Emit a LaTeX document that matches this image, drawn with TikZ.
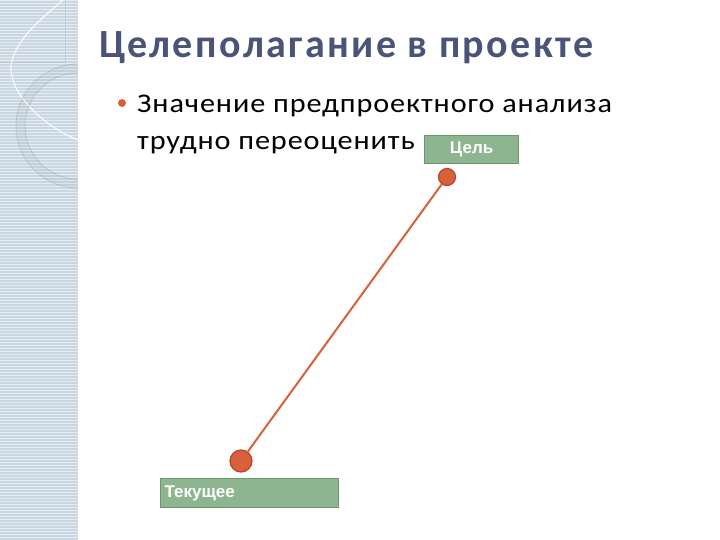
\documentclass[tikz,border=0pt]{standalone}
\usepackage{fontspec}
\setmainfont{Carlito}
\newfontfamily\arialf{Liberation Sans}
\begin{document}
\begin{tikzpicture}[x=1pt,y=-1pt,
  lbl/.style={draw=boxb,line width=1.2pt,fill=boxg,text=white,font=\arialf\bfseries\fontsize{17}{19}\selectfont,inner sep=0pt,anchor=north west},
  dot/.style={circle,draw=dotb,line width=1.2pt,fill=dotf,inner sep=0pt},
  bodytext/.style={anchor=base west,font=\fontsize{27}{30}\selectfont\addfontfeature{LetterSpace=3},inner sep=0pt}]
\definecolor{boxg}{HTML}{8DB58F}
\definecolor{boxb}{HTML}{6E9872}
\definecolor{dotf}{HTML}{D9603B}
\definecolor{dotb}{HTML}{B4482A}
\definecolor{band}{HTML}{C8D7E2}
\definecolor{titlec}{HTML}{4A5478}
\useasboundingbox (0,0) rectangle (720,540);
\fill[white] (0,0) rectangle (720,540);
% left band
\fill[band] (0,0) rectangle (78,540);
\foreach \i in {0,3,...,540} {\draw[white,opacity=0.55,line width=0.8pt] (0,\i) -- (78,\i);}
\draw[white,line width=1pt] (78,0) -- (78,540);
\draw[band!70!black,opacity=0.25,line width=0.8pt] (0,62) -- (65,62) -- (65,0);
\draw[white,opacity=0.85,line width=1.2pt] (63,0) .. controls (40,20) and (15,40) .. (11,65) .. controls (8,90) and (40,125) .. (78,140);
\draw[band!60!black,opacity=0.08,line width=9pt] (78,68.5) arc (-90:-270:57.5);
\draw[band!60!black,opacity=0.25,line width=0.8pt] (78,64) arc (-90:-270:62);
\draw[band!60!black,opacity=0.25,line width=0.8pt] (78,73) arc (-90:-270:53);
% title
\node[anchor=base west,text=titlec,font=\bfseries\fontsize{40}{44}\selectfont\addfontfeature{LetterSpace=6},inner sep=0pt] (title) at (99,58) {Целеполагание в проекте};
% bullet
\fill[dotf] (122,103) circle (4);
\node[bodytext] (l1) at (137,113) {\scalebox{1.12}[1]{Значение предпроектного анализа}};
\node[bodytext] (l2) at (137,150) {\scalebox{1.12}[1]{трудно переоценить}};
% boxes
\node[lbl,minimum width=94pt,minimum height=28pt] (goal) at (424,135) {Цель};
\node[lbl,minimum width=178pt,minimum height=29pt,text width=170pt,align=left,inner xsep=4pt] (cur) at (160,478) {Текущее};
% dots
\node[dot,minimum size=17pt] (d1) at (447,177) {};
\node[dot,minimum size=22pt] (d2) at (241,461) {};
\draw[dotf,line width=2pt] (d1) -- (d2);
\end{tikzpicture}
\end{document}
